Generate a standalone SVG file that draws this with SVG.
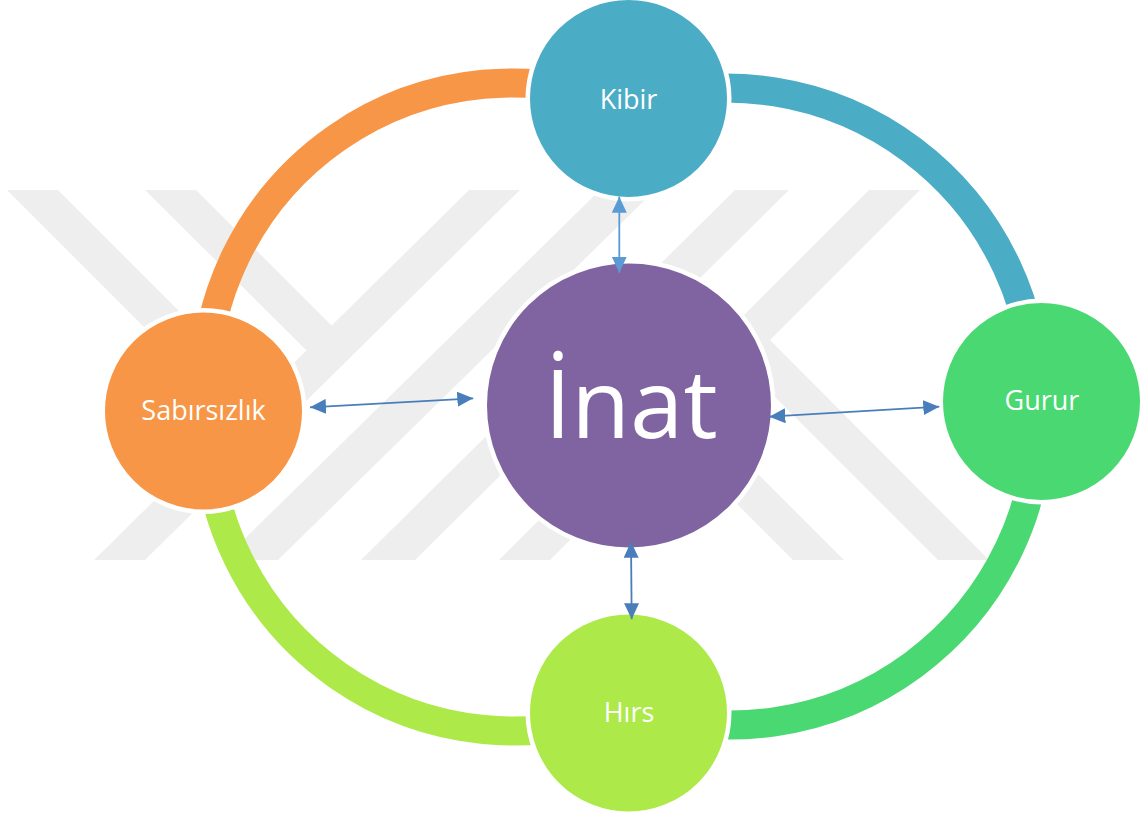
<svg xmlns="http://www.w3.org/2000/svg" width="1140" height="815" viewBox="0 0 1140 815">
  <defs>
    <style>
      .wm { fill: #eeeeee; }
      .arc { fill: none; stroke-width: 29; stroke-linecap: butt; }
      .node circle { stroke: #ffffff; stroke-width: 4.5; }
      .lbl { font-family: "Open Sans", "Noto Sans", "DejaVu Sans", sans-serif; fill: #ffffff; text-anchor: middle; font-size: 27px; }
      .big { font-size: 96px; }
      .con { stroke-width: 1.8; fill: none; }
      .c1 { stroke: #5b9bd5; marker-start: url(#ah1); marker-end: url(#ah1); }
      .c2 { stroke: #4a7ebb; marker-start: url(#ah2); marker-end: url(#ah2); }
    </style>
    <marker id="ah1" markerUnits="userSpaceOnUse" markerWidth="16" markerHeight="15" viewBox="0 0 16 15" refX="16" refY="7.5" orient="auto-start-reverse">
      <path d="M0,0 L16,7.5 L0,15 z" fill="#5b9bd5"/>
    </marker>
    <marker id="ah2" markerUnits="userSpaceOnUse" markerWidth="16" markerHeight="15" viewBox="0 0 16 15" refX="16" refY="7.5" orient="auto-start-reverse">
      <path d="M0,0 L16,7.5 L0,15 z" fill="#4a7ebb"/>
    </marker>
  </defs>
  <rect x="0" y="0" width="1140" height="815" fill="#ffffff"/>

  <g id="watermark">
    <polygon class="wm" points="7,190 58,190 300,432 249,432"/>
    <polygon class="wm" points="145,190 196,190 334,328 309,353"/>
    <polygon class="wm" points="469,190 520,190 145,560 94,560"/>
    <polygon class="wm" points="600,190 655,190 278,560 223,560"/>
    <polygon class="wm" points="735,190 789,190 415,560 361,560"/>
    <polygon class="wm" points="869,190 920,190 550,560 499,560"/>
    <polygon class="wm" points="718,340 770,340 989,560 938,560"/>
    <polygon class="wm" points="646,413 697,413 844,560 793,560"/>
  </g>

  <g id="ring">
    <path class="arc" stroke="#f79646" d="M205,390 A307,307 0 0 1 620,102.6"/>
    <path class="arc" stroke="#4bacc6" d="M640,100.2 A310,310 0 0 1 1036,398"/>
    <path class="arc" stroke="#4ad872" d="M1039,416 A309,309 0 0 1 640,711.6"/>
    <path class="arc" stroke="#ade948" d="M620,712.1 A307,307 0 0 1 207,424"/>
  </g>

  <g id="node-kibir" class="node">
    <circle cx="628.5" cy="98.5" r="100.75" fill="#4bacc6"/>
    <text class="lbl" x="628.5" y="109">Kibir</text>
  </g>
  <g id="node-sabirsizlik" class="node">
    <circle cx="203.5" cy="411" r="100.75" fill="#f79646"/>
    <text class="lbl" x="203.5" y="420">Sabırsızlık</text>
  </g>
  <g id="node-inat" class="node">
    <circle cx="629" cy="405.5" r="144.25" fill="#8064a2"/>
    <text class="lbl big" x="631" y="438">İnat</text>
  </g>
  <g id="node-gurur" class="node">
    <circle cx="1041.5" cy="401.5" r="100.75" fill="#4ad872"/>
    <text class="lbl" x="1042" y="410">Gurur</text>
  </g>
  <g id="node-hirs" class="node">
    <circle cx="628.5" cy="713" r="100.75" fill="#ade948"/>
    <text class="lbl" x="629" y="722">Hırs</text>
  </g>

  <g id="connectors">
    <line class="con c1" x1="619.3" y1="196.7" x2="619.3" y2="272.7"/>
    <line class="con c2" x1="310" y1="407.3" x2="473.3" y2="398.3"/>
    <line class="con c2" x1="769.3" y1="416.7" x2="939.3" y2="406.7"/>
    <line class="con c2" x1="631" y1="541.7" x2="631.7" y2="619.3"/>
  </g>
</svg>
